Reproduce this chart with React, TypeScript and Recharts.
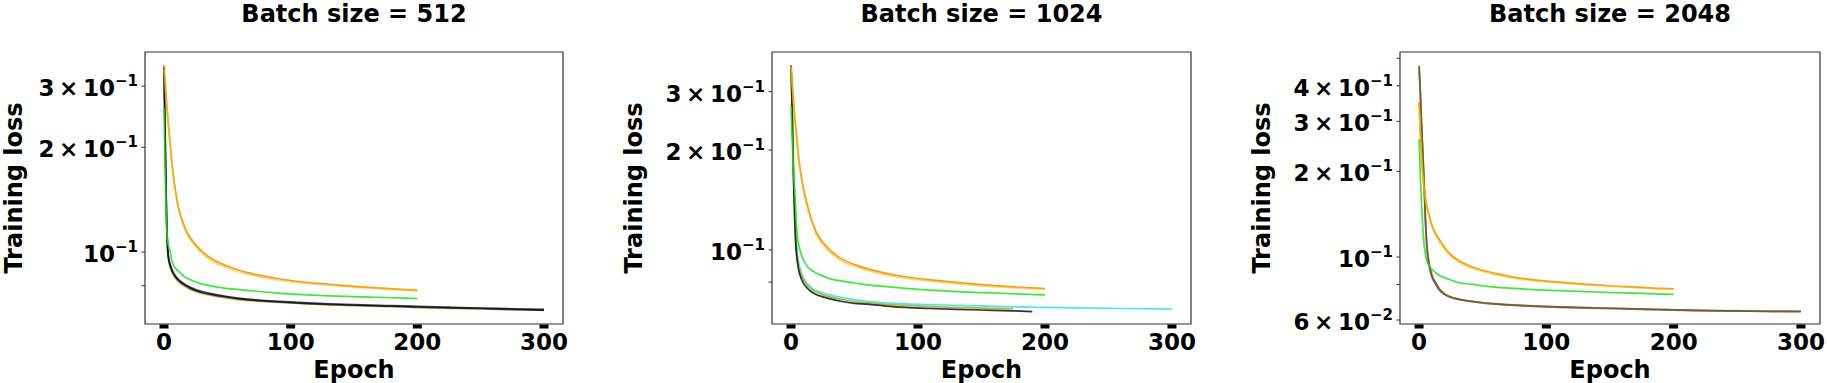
import { LineChart, Line, XAxis, YAxis, ReferenceArea, Label } from 'recharts';

const EPOCHS = [0, 1, 2, 3, 4, 5, 6, 8, 10, 13, 16, 20, 25, 30, 40, 50, 60, 75, 90, 110, 130, 150, 175, 190, 200, 225, 250, 275, 300];
const X_TICKS = [0, 100, 200, 300];

// batch size 512
const B512_ORANGE = [0.345, 0.305, 0.272, 0.245, 0.222, 0.203, 0.185, 0.16, 0.143, 0.128, 0.119, 0.111, 0.105, 0.1005, 0.0945, 0.0912, 0.0885, 0.0858, 0.0838, 0.082, 0.0808, 0.0797, 0.0786, 0.078, 0.0776];
const B512_GOLD = [0.335, 0.298, 0.266, 0.24, 0.218, 0.2, 0.182, 0.157, 0.141, 0.126, 0.117, 0.1095, 0.1035, 0.099, 0.0932, 0.0901, 0.0875, 0.085, 0.0831, 0.0814, 0.0803, 0.0792, 0.0782, 0.0777, 0.0773];
const B512_GREEN = [0.26, 0.165, 0.12, 0.107, 0.103, 0.1, 0.095, 0.091, 0.089, 0.087, 0.085, 0.0835, 0.082, 0.081, 0.0795, 0.0785, 0.078, 0.077, 0.0762, 0.0754, 0.0748, 0.0744, 0.074, 0.0737, 0.0735];
const B512_BLACK = [0.34, 0.2, 0.125, 0.1, 0.094, 0.091, 0.089, 0.086, 0.084, 0.082, 0.0805, 0.079, 0.0775, 0.0765, 0.0752, 0.0742, 0.0733, 0.0725, 0.0719, 0.0712, 0.0707, 0.0703, 0.0699, 0.0697, 0.0695, 0.0691, 0.0688, 0.0684, 0.0681];
const B512_NAVY = [0.34, 0.205, 0.128, 0.102, 0.095, 0.092, 0.0895, 0.0865, 0.0845, 0.0825, 0.081, 0.0795, 0.078, 0.077, 0.0756, 0.0745, 0.0736, 0.0728, 0.0722, 0.0715, 0.071, 0.0706, 0.0702, 0.07, 0.0698, 0.0694, 0.069, 0.0687, 0.0684];
const B512_OLIVE = [0.34, 0.21, 0.128, 0.1, 0.093, 0.09, 0.088, 0.085, 0.0832, 0.0812, 0.0798, 0.0783, 0.077, 0.076, 0.0747, 0.0737, 0.0729, 0.0722, 0.0716, 0.071, 0.0705, 0.0701, 0.0697, 0.0695, 0.0692, 0.0689, 0.0686, 0.0683, 0.068];

// batch size 1024
const B1024_ORANGE = [0.36, 0.315, 0.28, 0.25, 0.228, 0.208, 0.19, 0.168, 0.152, 0.136, 0.124, 0.113, 0.1055, 0.1005, 0.0938, 0.0903, 0.0878, 0.085, 0.083, 0.0812, 0.0798, 0.0786, 0.0774, 0.0768, 0.0765];
const B1024_GOLD = [0.355, 0.308, 0.274, 0.245, 0.223, 0.204, 0.186, 0.165, 0.149, 0.133, 0.122, 0.111, 0.104, 0.099, 0.0925, 0.0892, 0.0868, 0.0841, 0.0822, 0.0805, 0.0791, 0.0779, 0.0768, 0.0763, 0.076];
const B1024_GREEN = [0.27, 0.21, 0.17, 0.15, 0.125, 0.11, 0.104, 0.097, 0.093, 0.089, 0.087, 0.085, 0.0835, 0.082, 0.0805, 0.0795, 0.0785, 0.0775, 0.0766, 0.0756, 0.0749, 0.0743, 0.0738, 0.0734, 0.0732];
const B1024_CYAN = [0.35, 0.25, 0.17, 0.13, 0.11, 0.098, 0.092, 0.086, 0.082, 0.079, 0.077, 0.0755, 0.0743, 0.0733, 0.0718, 0.0708, 0.07, 0.0693, 0.0688, 0.0684, 0.0681, 0.0678, 0.0674, 0.0672, 0.0671, 0.0669, 0.0667, 0.0665, 0.0663];
const B1024_BLACK = [0.36, 0.25, 0.16, 0.12, 0.1, 0.092, 0.087, 0.082, 0.079, 0.0765, 0.0748, 0.0733, 0.0722, 0.0713, 0.0699, 0.069, 0.0686, 0.0677, 0.0671, 0.0666, 0.0662, 0.0659, 0.0655, 0.0652];
const B1024_OLIVE = [0.36, 0.26, 0.165, 0.123, 0.102, 0.094, 0.089, 0.084, 0.081, 0.078, 0.0762, 0.0745, 0.0733, 0.0723, 0.0709, 0.0699, 0.0692, 0.0685, 0.068, 0.0675, 0.0671, 0.0668, 0.0665];

// batch size 2048
const B2048_ORANGE = [0.35, 0.27, 0.225, 0.195, 0.174, 0.162, 0.152, 0.14, 0.13, 0.121, 0.115, 0.108, 0.102, 0.098, 0.093, 0.0898, 0.0875, 0.0848, 0.0831, 0.0815, 0.0803, 0.0792, 0.0782, 0.0775, 0.0772];
const B2048_GOLD = [0.34, 0.265, 0.22, 0.19, 0.17, 0.158, 0.149, 0.137, 0.128, 0.119, 0.113, 0.1065, 0.1005, 0.0968, 0.092, 0.0889, 0.0866, 0.0841, 0.0825, 0.081, 0.0798, 0.0788, 0.0779, 0.0772, 0.0769];
const B2048_GREEN = [0.26, 0.19, 0.15, 0.125, 0.11, 0.102, 0.097, 0.093, 0.0905, 0.088, 0.086, 0.0845, 0.083, 0.0815, 0.0802, 0.0792, 0.0783, 0.0775, 0.0768, 0.0761, 0.0755, 0.075, 0.0744, 0.074, 0.0738];
const B2048_DARK = [0.47, 0.38, 0.29, 0.23, 0.18, 0.135, 0.112, 0.094, 0.086, 0.081, 0.077, 0.074, 0.0722, 0.0712, 0.0699, 0.069, 0.0684, 0.0677, 0.0672, 0.0667, 0.0663, 0.066, 0.0655, 0.0653, 0.0651, 0.0648, 0.0646, 0.0644, 0.0643];
const B2048_ROSE = [0.46, 0.37, 0.28, 0.225, 0.175, 0.132, 0.109, 0.092, 0.085, 0.08, 0.0762, 0.0737, 0.072, 0.071, 0.0697, 0.0688, 0.0682, 0.0675, 0.067, 0.0665, 0.0661, 0.0658, 0.0654, 0.0652, 0.065, 0.0647, 0.0645, 0.0643, 0.0642];
const B2048_OLIVE = [0.47, 0.38, 0.29, 0.23, 0.18, 0.136, 0.113, 0.095, 0.087, 0.0815, 0.0773, 0.0743, 0.0724, 0.0714, 0.07, 0.0691, 0.0685, 0.0678, 0.0673, 0.0668, 0.0664, 0.0661, 0.0656, 0.0654, 0.0652, 0.0649, 0.0647, 0.0645, 0.0644];

const Y_TICKS_A = [0.07, 0.08, 0.09, 0.1, 0.2, 0.3];
const Y_LABELED_A = [0.1, 0.2, 0.3];
const Y_TICKS_B = [0.06, 0.07, 0.08, 0.09, 0.1, 0.2, 0.3, 0.4, 0.5];
const Y_LABELED_B = [0.06, 0.1, 0.2, 0.3, 0.4];

const FONT = '"DejaVu Sans", sans-serif';
const C = {
  orange: '#ff8000',
  gold: '#e8c400',
  green: '#1ee01e',
  cyan: '#30e0f0',
  black: '#111111',
  navy: '#1c1c7a',
  olive: '#b0a818',
  rose: '#c0506a',
  dark: '#554848',
};

type Series = { key: string; color: string; values: number[]; opacity?: number };

const PANELS = [
  {
    title: 'Batch size = 512', left: 0, width: 600, yWidth: 145, right: 37,
    domain: [0.0621, 0.376], ticks: Y_TICKS_A, labeled: Y_LABELED_A,
    series: [
      { key: 'olive', color: C.olive, values: B512_OLIVE },
      { key: 'navy', color: C.navy, values: B512_NAVY },
      { key: 'black', color: C.black, values: B512_BLACK },
      { key: 'orange', color: C.orange, values: B512_ORANGE },
      { key: 'gold', color: C.gold, values: B512_GOLD, opacity: 0.6 },
      { key: 'green', color: C.green, values: B512_GREEN },
    ] as Series[],
  },
  {
    title: 'Batch size = 1024', left: 620, width: 600, yWidth: 152, right: 29,
    domain: [0.0598, 0.395], ticks: Y_TICKS_A, labeled: Y_LABELED_A,
    series: [
      { key: 'cyan', color: C.cyan, values: B1024_CYAN },
      { key: 'olive', color: C.olive, values: B1024_OLIVE },
      { key: 'black', color: C.black, values: B1024_BLACK },
      { key: 'orange', color: C.orange, values: B1024_ORANGE },
      { key: 'gold', color: C.gold, values: B1024_GOLD, opacity: 0.6 },
      { key: 'green', color: C.green, values: B1024_GREEN },
    ] as Series[],
  },
  {
    title: 'Batch size = 2048', left: 1240, width: 587, yWidth: 160, right: 7,
    domain: [0.0581, 0.526], ticks: Y_TICKS_B, labeled: Y_LABELED_B,
    series: [
      { key: 'rose', color: C.rose, values: B2048_ROSE },
      { key: 'olive', color: C.olive, values: B2048_OLIVE },
      { key: 'dark', color: C.dark, values: B2048_DARK, opacity: 0.75 },
      { key: 'orange', color: C.orange, values: B2048_ORANGE },
      { key: 'gold', color: C.gold, values: B2048_GOLD, opacity: 0.6 },
      { key: 'green', color: C.green, values: B2048_GREEN },
    ] as Series[],
  },
];

function logParts(v: number) {
  const exp = Math.floor(Math.log10(v) + 1e-9);
  const mant = Math.round(v / Math.pow(10, exp));
  return { mant, exp };
}

function YTick(props: any) {
  const { x, y, payload, labeled } = props;
  const v = payload.value;
  const show = labeled.some((t: number) => Math.abs(t - v) < 1e-9);
  const { mant, exp } = logParts(v);
  return (
    <g>
      <line x1={x} x2={x - 3.5} y1={y} y2={y} stroke="#333" strokeWidth={1} />
      {show && (
        <text x={x - 7} y={y + 10} textAnchor="end" fontFamily={FONT} fontWeight="bold" fontSize={23} fill="#000">
          <tspan>{mant === 1 ? '10' : `${mant}\u2009×\u200910`}</tspan>
          <tspan dy={-10} fontSize={15}>{`\u2212${-exp}`}</tspan>
        </text>
      )}
    </g>
  );
}

function XTick(props: any) {
  const { x, y, payload } = props;
  return (
    <g>
      <rect x={x - 4.5} y={y + 0.5} width={9} height={4} fill="#000" />
      <text x={x} y={y + 26} textAnchor="middle" fontFamily={FONT} fontWeight="bold" fontSize={23} fill="#000">
        {payload.value}
      </text>
    </g>
  );
}

function Panel({ p }: { p: (typeof PANELS)[number] }) {
  const rows = EPOCHS.map((e, i) => {
    const row: Record<string, number | null> = { epoch: e };
    p.series.forEach((s) => { row[s.key] = i < s.values.length ? s.values[i] : null; });
    return row;
  });
  return (
    <div style={{ position: 'absolute', left: p.left, top: 0 }}>
      <LineChart width={p.width} height={383} data={rows} margin={{ top: 52, right: p.right, bottom: 0, left: 0 }}>
        <XAxis
          dataKey="epoch" type="number" domain={[-15, 315]} ticks={X_TICKS} allowDataOverflow
          height={59} tickSize={0} tickMargin={0} tickLine={false} axisLine={false} tick={<XTick />}
        >
          <Label
            content={(lp: any) => {
              const vb = lp.viewBox;
              return (
                <text x={vb.x + vb.width / 2} y={vb.y + 54} textAnchor="middle" fontFamily={FONT} fontWeight="bold" fontSize={24} fill="#000">
                  Epoch
                </text>
              );
            }}
          />
        </XAxis>
        <YAxis
          scale="log" type="number" domain={p.domain} ticks={p.ticks} allowDataOverflow
          width={p.yWidth} tickSize={0} tickMargin={0} tickLine={false} axisLine={false}
          tick={<YTick labeled={p.labeled} />}
        >
          <Label
            content={(lp: any) => {
              const vb = lp.viewBox;
              const cx = Math.max(vb.x + vb.width - 130, vb.x + 22);
              const cy = vb.y + vb.height / 2;
              return (
                <text x={cx} y={cy} transform={`rotate(-90, ${cx}, ${cy})`} textAnchor="middle" fontFamily={FONT} fontWeight="bold" fontSize={24} fill="#000">
                  Training loss
                </text>
              );
            }}
          />
        </YAxis>
        {p.series.map((s) => (
          <Line
            key={s.key} dataKey={s.key} type="monotone" stroke={s.color} strokeWidth={1.7} strokeOpacity={s.opacity ?? 0.85}
            dot={false} activeDot={false} isAnimationActive={false} connectNulls={false}
          />
        ))}
        <ReferenceArea
          x1={-15} x2={315} y1={p.domain[0]} y2={p.domain[1]} fill="none" stroke="#333" strokeWidth={1.2}
          ifOverflow="visible"
          label={
            <Label
              content={(lp: any) => {
                const vb = lp.viewBox;
                return (
                  <text x={vb.x + vb.width / 2} y={22} textAnchor="middle" fontFamily={FONT} fontWeight="bold" fontSize={24} fill="#000">
                    {p.title}
                  </text>
                );
              }}
            />
          }
        />
      </LineChart>
    </div>
  );
}

export default function App() {
  return (
    <div style={{ position: 'absolute', left: 0, top: 0, width: 1827, height: 383, background: '#fff' }}>
      {PANELS.map((p) => <Panel key={p.title} p={p} />)}
    </div>
  );
}
